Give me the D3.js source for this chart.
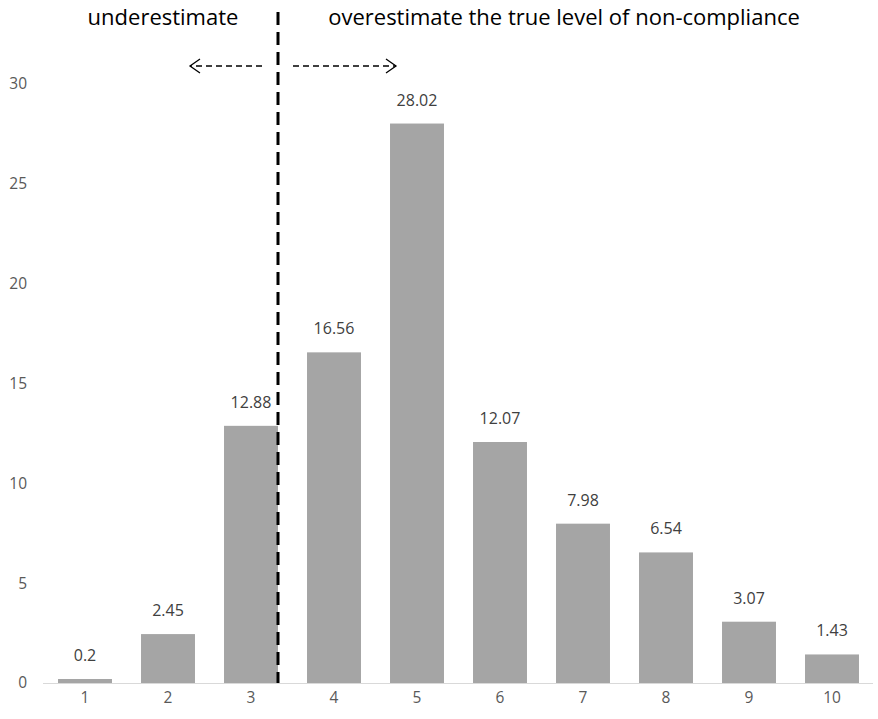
<!DOCTYPE html>
<html><head><meta charset="utf-8">
<script src="https://cdn.jsdelivr.net/npm/d3@7/dist/d3.min.js"></script>
<style>body{margin:0;background:#fff}svg{display:block}text{font-family:"Open Sans",sans-serif}</style>
</head><body><svg id="c" width="878" height="719"></svg>
<script>
const categories = ["1","2","3","4","5","6","7","8","9","10"];
const values = [0.2, 2.45, 12.88, 16.56, 28.02, 12.07, 7.98, 6.54, 3.07, 1.43];
const yTicks = [0, 5, 10, 15, 20, 25, 30];
const leftLabel = "underestimate";
const rightLabel = "overestimate the true level of non-compliance";

const svg = d3.select("#c");
const x = d3.scaleBand().domain(categories).range([43.5, 873.5]).paddingInner(0.35).paddingOuter(0.175);
const y = d3.scaleLinear().domain([0, 30]).range([683, 84]);

// baseline
svg.append("line").attr("x1", 43).attr("x2", 873).attr("y1", y(0)+0.5).attr("y2", y(0)+0.5)
  .attr("stroke", "#d9d9d9").attr("stroke-width", 1);

// y tick labels
svg.selectAll(".yt").data(yTicks).enter().append("text")
  .attr("x", 27).attr("y", d => y(d)).attr("dy", "0.35em").attr("text-anchor", "end")
  .attr("fill", "#595959").style("font-size", "15.5px").text(d => d);

// x tick labels
svg.selectAll(".xt").data(categories).enter().append("text")
  .attr("x", d => x(d) + x.bandwidth()/2).attr("y", 703).attr("text-anchor", "middle")
  .attr("fill", "#595959").style("font-size", "15.5px").text(d => d);

// bars
svg.selectAll(".bar").data(values).enter().append("rect")
  .attr("x", (d,i) => x(categories[i])).attr("width", x.bandwidth())
  .attr("y", d => y(d)).attr("height", d => y(0) - y(d)).attr("fill", "#a5a5a5");

// data labels
svg.selectAll(".dl").data(values).enter().append("text")
  .attr("x", (d,i) => x(categories[i]) + x.bandwidth()/2).attr("y", d => y(d) - 18)
  .attr("text-anchor", "middle").attr("fill", "#404040").style("font-size", "16px")
  .text(d => d);

// dashed divider
const divX = 278;
svg.append("line").attr("x1", divX).attr("x2", divX).attr("y1", 12).attr("y2", y(0))
  .attr("stroke", "#000").attr("stroke-width", 3).attr("stroke-dasharray", "13,7");

// labels
svg.append("text").attr("x", 163).attr("y", 25).attr("text-anchor", "middle")
  .attr("fill", "#000").style("font-size", "22px").text(leftLabel);
svg.append("text").attr("x", 564).attr("y", 25).attr("text-anchor", "middle")
  .attr("fill", "#000").style("font-size", "22px").text(rightLabel);

// arrows
function arrow(x1, x2, yy) {
  svg.append("line").attr("x1", x1).attr("x2", x2).attr("y1", yy).attr("y2", yy)
    .attr("stroke", "#000").attr("stroke-width", 1.3).attr("stroke-dasharray", "6,4");
  const dir = x2 > x1 ? 1 : -1;
  svg.append("path").attr("d", `M${x2 - dir*10},${yy-7} L${x2},${yy} L${x2 - dir*10},${yy+7}`)
    .attr("fill", "none").attr("stroke", "#000").attr("stroke-width", 1.3);
}
arrow(262, 190, 66);
arrow(293, 396, 66);
</script></body></html>
